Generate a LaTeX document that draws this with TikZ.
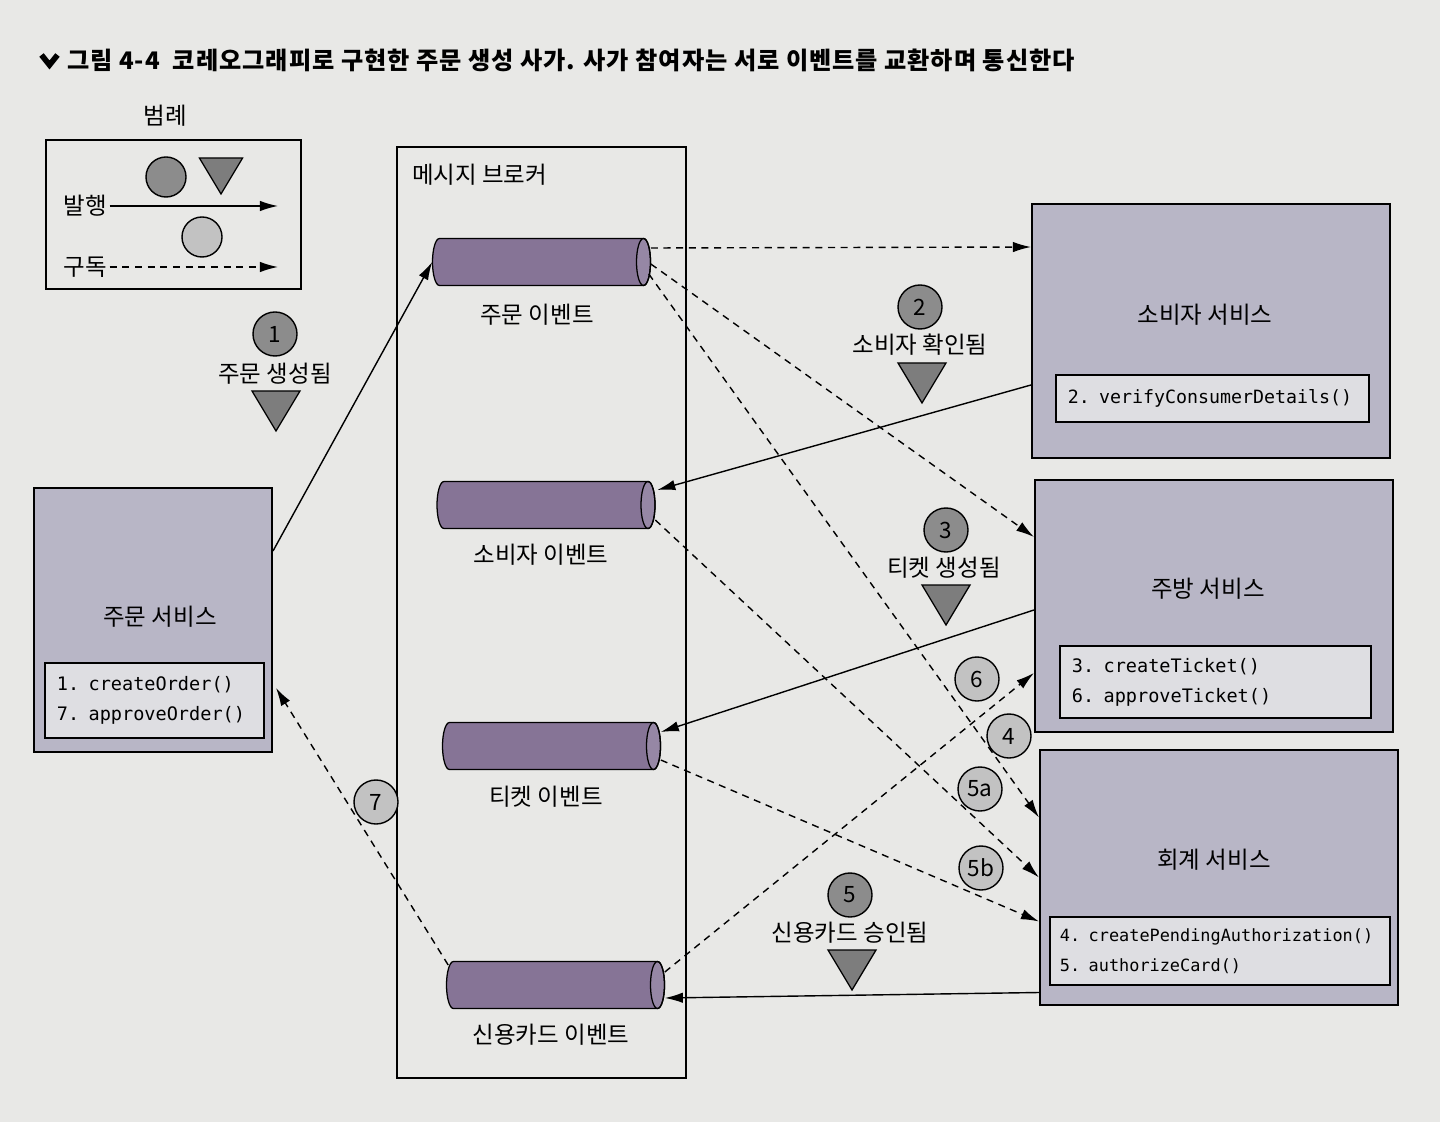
\documentclass[tikz,border=0pt]{standalone}
\usepackage{fontspec}
\setmainfont{Noto Sans CJK KR}
\newfontfamily\codefont{DejaVu Sans Mono}
\newfontfamily\titlefont{Noto Sans CJK KR}[LetterSpace=4]
\usetikzlibrary{arrows.meta,shapes.geometric,calc}
\definecolor{bg}{RGB}{232,232,230}
\definecolor{svcfill}{RGB}{184,182,198}
\definecolor{methfill}{RGB}{222,222,226}
\definecolor{cylbody}{RGB}{134,116,150}
\definecolor{cylend}{RGB}{150,135,165}
\definecolor{pubfill}{RGB}{140,140,140}
\definecolor{subfill}{RGB}{194,194,194}
\definecolor{trifill}{RGB}{125,125,125}
\tikzset{
  txt/.style={font=\fontsize{16.7}{20}\selectfont, inner sep=2pt},
  svcbox/.style={draw=black, line width=1.4pt, fill=svcfill, minimum width=8.95cm, inner sep=0},
  methbox/.style={draw=black, line width=1.3pt, fill=methfill, align=left, inner xsep=0.3cm, inner ysep=0pt,
    font=\codefont\fontsize{13.2}{21.5}\selectfont},
  evtnode/.style={rectangle, minimum width=5.45cm, minimum height=1.175cm, inner sep=0},
  evtcyl/.pic={
    \fill[cylbody] (-102,-23.5) -- (102,-23.5) arc[start angle=-90, end angle=90, x radius=7, y radius=23.5]
      -- (-102,23.5) arc[start angle=90, end angle=270, x radius=7, y radius=23.5] -- cycle;
    \draw[fill=cylend, line width=0.9pt] (102,0) ellipse[x radius=7, y radius=23.5];
    \draw[line width=0.9pt] (-102,-23.5) -- (102,-23.5) arc[start angle=-90, end angle=90, x radius=7, y radius=23.5]
      -- (-102,23.5) arc[start angle=90, end angle=270, x radius=7, y radius=23.5] -- cycle;
  },
  pubcirc/.style={circle, draw=black, line width=1pt, fill=pubfill, minimum size=1.1cm, inner sep=0,
    font=\fontsize{16}{19}\selectfont},
  subcirc/.style={circle, draw=black, line width=1pt, fill=subfill, minimum size=1.1cm, inner sep=0,
    font=\fontsize{16}{19}\selectfont},
  publine/.style={line width=1pt, -{Latex[length=4.5mm,width=2.6mm]}},
  subline/.style={line width=1pt, dash pattern=on 5pt off 4pt, -{Latex[length=4.5mm,width=2.6mm]}},
  evtri/.pic={\draw[fill=trifill, line width=0.9pt] (-24,0) -- (24,0) -- (0,40) -- cycle;}
}
\begin{document}
\begin{tikzpicture}[x=0.025cm, y=-0.025cm]
\useasboundingbox (0,0) rectangle (1440,1122);
\fill[bg] (0,0) rectangle (1440,1122);

% title
\draw[line width=4pt, line join=miter] (41.5,55) -- (49.5,65) -- (57.5,55);
\node[anchor=west, font=\titlefont\bfseries\fontsize{17.2}{20}\selectfont, inner sep=0] (title) at (67,60)
  {그림 4-4\ \ 코레오그래피로 구현한 주문 생성 사가. 사가 참여자는 서로 이벤트를 교환하며 통신한다};

% legend
\node[txt] (legt) at (165,116) {범례};
\node[draw=black, line width=1.3pt, minimum width=6.375cm, minimum height=3.725cm, inner sep=0] (leg) at (173.5,214.5) {};
\node[pubcirc, minimum size=1cm] (lc1) at (166,177) {};
\pic[scale=0.9] at (221,158) {evtri};
\node[txt] (lpub) at (85,206) {발행};
\coordinate (lp2) at (278,206);
\draw[publine] (lpub.east) -- (lp2);
\node[subcirc, minimum size=1cm] (lc2) at (202,237) {};
\node[txt] (lsub) at (85,267) {구독};
\coordinate (ls2) at (278,267);
\draw[subline] (lsub.east) -- (ls2);

% broker
\node[draw=black, line width=1.3pt, minimum width=7.225cm, minimum height=23.275cm, inner sep=0] (brk) at (541.5,612.5) {};
\node[txt, anchor=west] (brkt) at (409,175) {메시지 브로커};

\node[evtnode] (oe) at (541.5,262) {};
\pic at (oe.center) {evtcyl};
\node[txt] (oet) at (537,315) {주문 이벤트};
\node[evtnode] (cse) at (546,505) {};
\pic at (cse.center) {evtcyl};
\node[txt] (cset) at (541,555) {소비자 이벤트};
\node[evtnode] (te) at (551.5,746) {};
\pic at (te.center) {evtcyl};
\node[txt] (tet) at (546,797) {티켓 이벤트};
\node[evtnode] (cce) at (555.5,985) {};
\pic at (cce.center) {evtcyl};
\node[txt] (ccet) at (551,1035) {신용카드 이벤트};

% order service
\node[svcbox, minimum width=5.95cm, minimum height=6.6cm] (os) at (153,620) {};
\node[txt] (ost) at (160,617) {주문 서비스};
\node[methbox, text width=4.875cm, minimum height=1.875cm] (osm) at (154.5,700.5) {1. createOrder()\\7. approveOrder()};

% consumer service
\node[svcbox, minimum height=6.35cm] (cs) at (1211,331) {};
\node[txt] (cst) at (1205,315) {소비자 서비스};
\node[methbox, text width=7.225cm, minimum height=1.175cm, font=\codefont\fontsize{13}{21.5}\selectfont] (csm) at (1212.5,398.5) {2. verifyConsumerDetails()};

% kitchen service
\node[svcbox, minimum height=6.3cm] (ks) at (1214,606) {};
\node[txt] (kst) at (1208,589) {주방 서비스};
\node[methbox, text width=7.175cm, minimum height=1.8cm] (ksm) at (1215.5,682) {3. createTicket()\\6. approveTicket()};

% accounting service
\node[svcbox, minimum height=6.375cm] (acs) at (1219,877.5) {};
\node[txt] (acst) at (1214,860) {회계 서비스};
\node[methbox, inner xsep=0.25cm, text width=8cm, minimum height=1.7cm, font=\codefont\fontsize{12}{21.5}\selectfont] (acsm) at (1220,951)
  {4. createPendingAuthorization()\\5. authorizeCard()};

% connectors
\draw[publine] ($(os.north east)+(0,64)$) -- (oe.west);
\draw[subline] ($(oe.east)+(0,-14)$) -- ($(cs.west)+(0,-84)$);
\draw[subline] ($(oe.east)+(0,2)$) -- ($(ks.west)+(0,-69)$);
\draw[subline] ($(oe.east)+(-2,12)$) -- ($(acs.west)+(0,-60)$);
\draw[publine] ($(cs.west)+(0,54)$) -- ($(cse.east)+(2,-15)$);
\draw[subline] ($(cse.east)+(0,15)$) -- (acs.west);
\draw[publine] ($(ks.west)+(0,4)$) -- ($(te.east)+(0,-14)$);
\draw[subline] ($(te.east)+(0,14)$) -- ($(acs.west)+(0,44)$);
\draw[subline] ($(cce.east)+(0,-13)$) -- ($(ks.west)+(0,67)$);
\draw[publine] ($(acs.west)+(0,115)$) -- ($(cce.east)+(0,13)$);
\draw[subline] ($(cce.west)+(2,-20)$) -- ($(os.east)+(3,68)$);

% published-event markers
\node[pubcirc] (n1) at (275,334) {1};
\node[txt] (t1) at (275,374) {주문 생성됨};
\pic at (276,391) {evtri};
\node[pubcirc] (n2) at (920,307) {2};
\node[txt] (t2) at (920,345) {소비자 확인됨};
\pic at (922,363) {evtri};
\node[pubcirc] (n3) at (946,530) {3};
\node[txt] (t3) at (944,568) {티켓 생성됨};
\pic at (946,585) {evtri};
\node[pubcirc] (n5) at (850,895) {5};
\node[txt] (t5) at (850,933) {신용카드 승인됨};
\pic at (852,950) {evtri};

% subscription markers
\node[subcirc] (n6) at (977,679) {6};
\node[subcirc] (n4) at (1009,736) {4};
\node[subcirc] (n5a) at (980,789) {5a};
\node[subcirc] (n5b) at (981,868) {5b};
\node[subcirc] (n7) at (376,802) {7};
\end{tikzpicture}
\end{document}
